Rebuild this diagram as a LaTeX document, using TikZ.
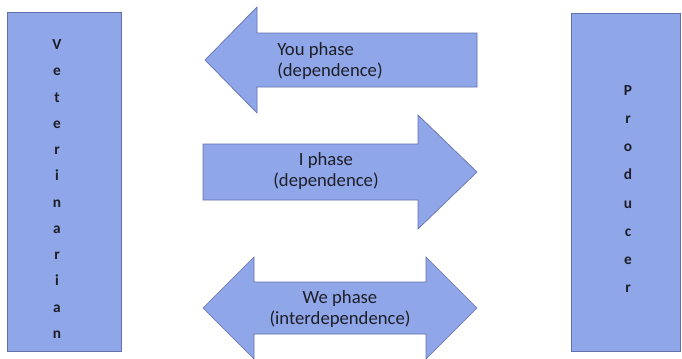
\documentclass[tikz,border=0pt]{standalone}
\usepackage{fontspec}
\setmainfont{Carlito}
\definecolor{phasefill}{RGB}{143,166,232}
\definecolor{phaseline}{RGB}{100,112,170}
\definecolor{phasetext}{RGB}{30,30,40}

\begin{document}
\begin{tikzpicture}[x=0.75pt,y=-0.75pt,
  phasebox/.style={fill=phasefill,draw=phaseline,line width=0.5pt},
  phase/.style={text=phasetext,font=\fontsize{14}{15.5}\selectfont,inner sep=0pt},
  letters/.style={text=phasetext,font=\bfseries\fontsize{11.5}{19.7}\selectfont,align=center,inner sep=0pt}]
\useasboundingbox (0,0) rectangle (682,358);

%% the two parties
\draw[phasebox] (7,12) rectangle (121,351);
\node[letters] (vet) at (57,189) {V\\e\\t\\e\\r\\i\\n\\a\\r\\i\\a\\n};
\draw[phasebox] (571,13) rectangle (680,351);
\node[letters,font=\bfseries\fontsize{11.5}{21.2}\selectfont] (prod) at (628,189) {P\\r\\o\\d\\u\\c\\e\\r};

%% you phase, pointing left
\draw[phasebox] (477,33) -- (257,33) -- (257,7) -- (205,60) -- (257,113) -- (257,87) -- (477,87) -- cycle;
\node[phase,align=left,anchor=west] (you) at (277,61) {You phase\\(dependence)};

%% I phase, pointing right
\draw[phasebox] (203,144) -- (418,144) -- (418,115) -- (477,172) -- (418,229) -- (418,200) -- (203,200) -- cycle;
\node[phase,align=center] (i) at (326,171) {I phase\\(dependence)};

%% we phase, both ways
\draw[phasebox] (254,282) -- (426,282) -- (426,257) -- (477,308) -- (426,359) -- (426,334)
  -- (254,334) -- (254,359) -- (203,308) -- (254,257) -- cycle;
\node[phase,align=center] (we) at (340,309) {We phase\\(interdependence)};

\end{tikzpicture}
\end{document}
